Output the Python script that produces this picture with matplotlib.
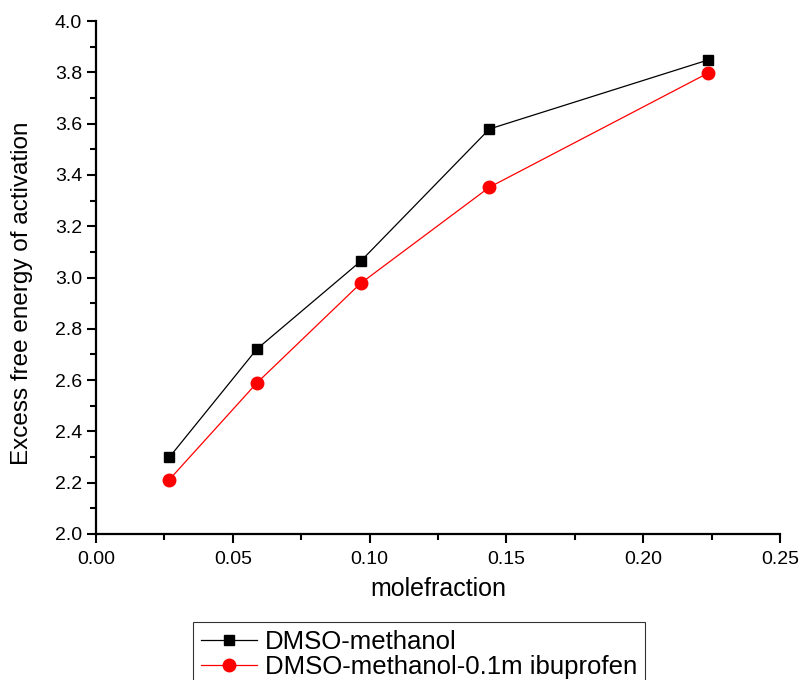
import matplotlib.pyplot as plt
from matplotlib.ticker import MultipleLocator, FormatStrFormatter

plt.rcParams['font.family'] = ['Liberation Sans', 'DejaVu Sans']

mole_fraction = [0.0268, 0.0588, 0.0967, 0.1438, 0.2237]
dmso_methanol = [2.299, 2.721, 3.063, 3.579, 3.848]
dmso_methanol_ibu = [2.212, 2.589, 2.977, 3.352, 3.797]
labels = ['DMSO-methanol', 'DMSO-methanol-0.1m ibuprofen']

fig = plt.figure(figsize=(8.02, 6.80), dpi=100)
ax = fig.add_axes([96 / 802, 1 - 534 / 680, (780 - 96) / 802, (534 - 21) / 680])

ax.plot(mole_fraction, dmso_methanol, color='black', lw=0.9, marker='s', ms=7.5,
        label=labels[0])
ax.plot(mole_fraction, dmso_methanol_ibu, color='red', lw=0.9, marker='o', ms=9,
        label=labels[1])

ax.set_xlim(0, 0.25)
ax.set_ylim(2.0, 4.0)
ax.xaxis.set_major_locator(MultipleLocator(0.05))
ax.xaxis.set_minor_locator(MultipleLocator(0.025))
ax.yaxis.set_major_locator(MultipleLocator(0.2))
ax.yaxis.set_minor_locator(MultipleLocator(0.1))
ax.xaxis.set_major_formatter(FormatStrFormatter('%.2f'))
ax.yaxis.set_major_formatter(FormatStrFormatter('%.1f'))

for side in ['top', 'right']:
    ax.spines[side].set_visible(False)
for side in ['left', 'bottom']:
    ax.spines[side].set_linewidth(1.6)
ax.tick_params(which='major', direction='out', length=6.5, width=1.5, labelsize=14)
ax.tick_params(axis='x', which='major', pad=6)
ax.tick_params(which='minor', direction='out', length=4, width=1.5)

ax.set_xlabel('molefraction', fontsize=18, labelpad=6)
ax.set_ylabel('Excess free energy of activation', fontsize=17.5)
ax.yaxis.set_label_coords(-0.092, 0.47)

leg = fig.legend(loc='upper left', bbox_to_anchor=(193 / 802, 1 - 622 / 680),
                 fontsize=18.5, frameon=True, fancybox=False, edgecolor='black',
                 handlelength=2.2, handletextpad=0.3, labelspacing=0.05,
                 borderpad=0.3, borderaxespad=0)
leg.get_frame().set_linewidth(0.8)

fig.savefig('out.png', dpi=100)
